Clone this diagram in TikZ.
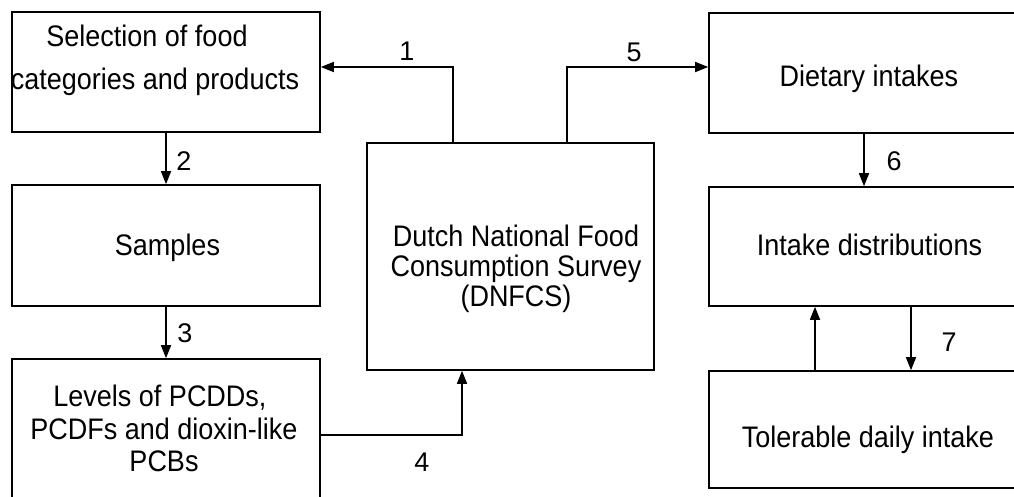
\documentclass[tikz,border=0pt]{standalone}
\usepackage{graphicx}
\usepackage{fontspec}
\setmainfont{Liberation Sans}
\usetikzlibrary{arrows.meta}
\newcommand{\boxlines}[1]{\scalebox{1}[1.1]{\begin{tabular}{@{}c@{}}#1\end{tabular}}}

\begin{document}
\begin{tikzpicture}[x=1pt,y=-1pt]
\tikzset{box/.style = {shape=rectangle,draw,line width=1.6pt,inner sep=0pt}}
\tikzset{txt/.style = {inner sep=0pt,font=\fontsize{27}{26}\selectfont}}
\tikzset{num/.style = {inner sep=0pt,font=\fontsize{27}{30}\selectfont}}
\tikzset{edge/.style = {line width=1.6pt,-{Triangle[length=13pt,width=10pt]}}}
\useasboundingbox (0,0) rectangle (1014,497);
\clip (0,0) rectangle (1014,497);
% boxes
\node[box,minimum width=308pt,minimum height=120pt] (sel) at (166,72) {};
\node[box,minimum width=308pt,minimum height=121pt] (samp) at (166,245.5) {};
\node[box,minimum width=308pt,minimum height=146pt] (lev) at (166,432) {};
\node[box,minimum width=287pt,minimum height=227pt] (dnfcs) at (510.5,256.5) {};
\node[box,minimum width=320pt,minimum height=120pt] (diet) at (869,73) {};
\node[box,minimum width=320pt,minimum height=119pt] (intake) at (869,246.5) {};
\node[box,minimum width=320pt,minimum height=117pt] (tdi) at (869,429.5) {};
% texts
\node[txt] (seltxt) at (155,61.3) {\boxlines{Selection of food\hspace*{16pt}\\[11.3pt]categories and products}};
\node[txt] (samptxt) at (167.5,249.3) {\boxlines{Samples}};
\node[txt] (levtxt) at (164,432.8) {\boxlines{Levels of PCDDs,\hspace*{8pt}\\[2.6pt]PCDFs and dioxin-like\\[2.6pt]PCBs}};
\node[txt] (dnfcstxt) at (516,270.3) {\boxlines{Dutch National Food\\Consumption Survey\\(DNFCS)}};
\node[txt] (diettxt) at (869,80.3) {\boxlines{Dietary intakes}};
\node[txt] (intaketxt) at (869.5,249.3) {\boxlines{Intake distributions}};
\node[txt] (tditxt) at (868,441.3) {\boxlines{Tolerable daily intake}};
% edges
\draw[edge] ([xshift=-57.5pt]dnfcs.north) |- ([yshift=5pt]sel.east);
\draw[edge] (sel) -- (samp);
\draw[edge] (samp) -- (lev);
\draw[edge] ([yshift=-3pt]lev.east) -| ([xshift=-48.5pt]dnfcs.south);
\draw[edge] ([xshift=56.5pt]dnfcs.north) |- ([yshift=6pt]diet.west);
\draw[edge] ([xshift=-5pt]diet.south) -- ([xshift=-5pt]intake.north);
\draw[edge] ([xshift=42pt]intake.south) -- ([xshift=42pt]tdi.north);
\draw[edge] ([xshift=-54pt]tdi.north) -- ([xshift=-54pt]intake.south);
% numbers
\node[num] (n1) at (407,51) {1};
\node[num] (n2) at (184,161) {2};
\node[num] (n3) at (185,333) {3};
\node[num] (n4) at (422,462) {4};
\node[num] (n5) at (634,52) {5};
\node[num] (n6) at (894,161) {6};
\node[num] (n7) at (949,342) {7};
\end{tikzpicture}
\end{document}
